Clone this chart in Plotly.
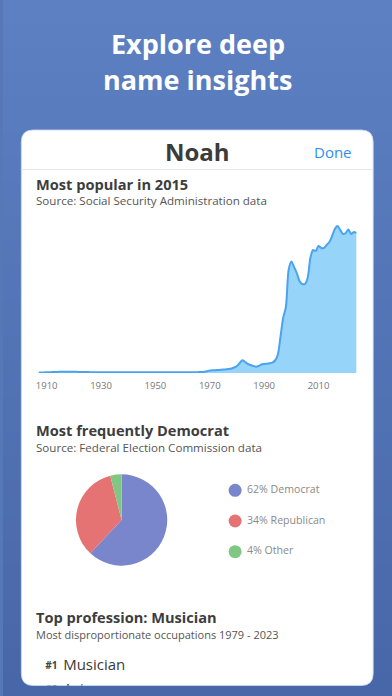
import plotly.graph_objects as go

# ---------------- data ----------------
years = list(range(1907, 2025))
births = [
    52, 65, 78, 91, 104, 117, 130, 143, 150, 156,          # 1907-1916
    160, 165, 162, 158, 150, 140, 130, 125, 118, 112,     # 1917-1926
    108, 105, 100, 98, 95, 92, 90, 92, 95, 98,            # 1927-1936
    100, 104, 108, 110, 106, 102, 98, 95, 92, 95,         # 1937-1946
    98, 100, 97, 94, 92, 90, 88, 86, 85, 85,              # 1947-1956
    86, 88, 90, 92, 94, 96, 98, 102, 108, 118,            # 1957-1966
    135, 170, 230, 320, 360, 370, 390, 410, 440, 480,     # 1967-1976
    520, 585, 715, 910, 1300, 1650, 1430, 1170, 1040, 910,  # 1977-1986
    820, 910, 1105, 1170, 1210, 1260, 1340, 1625, 2340, 4680,  # 1987-1996
    7150, 8580, 13390, 14500, 13780, 13000, 11960, 11570, 11570, 12350,  # 1997-2006
    14950, 15990, 15860, 16510, 16250, 16250, 16640, 17030, 17810, 18720,  # 2007-2016
    19110, 18590, 18070, 18200, 18655, 18070, 18330, 18200,  # 2017-2024
]
tick_years = [1910, 1930, 1950, 1970, 1990, 2010]

party_labels = ["Democrat", "Republican", "Other"]
party_values = [62, 34, 4]
party_colors = ["#7986cb", "#e57373", "#81c784"]

prof_ranks = [1, 2]
prof_names = ["Musician", "Actor"]

headline = ["Explore deep", "name insights"]
name = "Noah"
s1_title = "Most popular in 2015"
s1_sub = "Source: Social Security Administration data"
s2_title = "Most frequently Democrat"
s2_sub = "Source: Federal Election Commission data"
s3_title = "Top profession: Musician"
s3_sub = "Most disproportionate occupations 1979 - 2023"

# ---------------- helpers ----------------
W, H = 392, 696
FONT = "Open Sans"


def px(x):
    return x / W


def py(y):
    return 1 - y / H


fig = go.Figure()

# ---- background gradient (bands) ----
shapes = []
top_c = (92, 128, 194)
bot_c = (72, 103, 168)
nb = 58
for i in range(nb):
    t = i / (nb - 1)
    c = tuple(round(top_c[k] + (bot_c[k] - top_c[k]) * t) for k in range(3))
    shapes.append(dict(type="rect", xref="paper", yref="paper", layer="below",
                       x0=0, x1=1, y0=py((i + 1) * H / nb + 0.5), y1=py(i * H / nb),
                       fillcolor="rgb(%d,%d,%d)" % c, line=dict(width=0)))

# ---- card (rounded rect) ----
cl, cr, ct, cb, r = 18.5, 373, 130, 685.5, 12
path = (f"M {px(cl + r)},{py(ct)} L {px(cr - r)},{py(ct)} Q {px(cr)},{py(ct)} {px(cr)},{py(ct + r)} "
        f"L {px(cr)},{py(cb - r)} Q {px(cr)},{py(cb)} {px(cr - r)},{py(cb)} "
        f"L {px(cl + r)},{py(cb)} Q {px(cl)},{py(cb)} {px(cl)},{py(cb - r)} "
        f"L {px(cl)},{py(ct + r)} Q {px(cl)},{py(ct)} {px(cl + r)},{py(ct)} Z")
shapes.append(dict(type="path", xref="paper", yref="paper", layer="below", path=path,
                   fillcolor="white", line=dict(color="rgba(200,215,240,0.9)", width=1)))
# divider under header
shapes.append(dict(type="line", xref="paper", yref="paper", layer="below",
                   x0=px(cl), x1=px(cr), y0=py(169.5), y1=py(169.5),
                   line=dict(color="#e6e6e6", width=1)))

# ---- area chart ----
fig.add_trace(go.Scatter(
    x=years, y=births, mode="lines", line=dict(color="#4aa3ee", width=2, shape="spline", smoothing=0.8),
    fill="tozeroy", fillcolor="#97d4fa", hoverinfo="skip", showlegend=False,
    xaxis="x", yaxis="y"))

# ---- pie ----
fig.add_trace(go.Pie(
    labels=party_labels, values=party_values, marker=dict(colors=party_colors, line=dict(width=0)),
    sort=False, direction="clockwise", rotation=0, textinfo="none", hoverinfo="skip",
    showlegend=False,
    domain=dict(x=[px(73.5), px(165.5)], y=[py(566), py(474)])))

# ---- custom legend ----
fig.add_trace(go.Scatter(
    x=[0] * len(party_labels), y=list(range(1, len(party_labels) + 1)),
    mode="markers+text",
    marker=dict(size=13, color=party_colors),
    text=[f" {v}% {l}" for v, l in zip(party_values, party_labels)],
    textposition="middle right",
    textfont=dict(family=FONT, size=10.6, color="#8a8a8a"),
    hoverinfo="skip", showlegend=False, cliponaxis=False,
    xaxis="x2", yaxis="y2"))

# ---- profession list (clipped by card bottom) ----
fig.add_trace(go.Scatter(
    x=[0] * len(prof_ranks), y=prof_ranks, mode="text",
    text=[f"<b>#{k}</b>" for k in prof_ranks], textposition="middle right",
    textfont=dict(family=FONT, size=10, color="#444"),
    hoverinfo="skip", showlegend=False, cliponaxis=True,
    xaxis="x3", yaxis="y3"))
fig.add_trace(go.Scatter(
    x=[0.055] * len(prof_names), y=prof_ranks, mode="text",
    text=prof_names, textposition="middle right",
    textfont=dict(family=FONT, size=15, color="#3a3a3a"),
    hoverinfo="skip", showlegend=False, cliponaxis=True,
    xaxis="x3", yaxis="y3"))

# ---- annotations ----
ann = []


def txt(s, x, y, size, color, bold=False, xanchor="left"):
    ann.append(dict(text=f"<b>{s}</b>" if bold else s, x=px(x), y=py(y), xref="paper", yref="paper",
                    xanchor=xanchor, yanchor="middle", showarrow=False,
                    font=dict(family=FONT, size=size, color=color)))


txt(headline[0], 196, 43, 27, "white", True, "center")
txt(headline[1], 196, 80, 27, "white", True, "center")
txt(name, 195.5, 151, 24, "#3b3b3b", True, "center")
txt("Done", 332.5, 152, 15, "#2f8ff0", False, "center")
txt(s1_title, 31, 184, 14.6, "#3d3d3d", True)
txt(s1_sub, 31, 201, 11.6, "#555555")
txt(s2_title, 31, 430, 14.6, "#3d3d3d", True)
txt(s2_sub, 31, 447, 11.6, "#555555")
txt(s3_title, 31, 617, 14.6, "#3d3d3d", True)
txt(s3_sub, 31, 634, 11, "#555555")

fig.update_layout(
    width=W, height=H, margin=dict(l=0, r=0, t=0, b=0), autosize=False,
    paper_bgcolor="#5677b8", plot_bgcolor="rgba(0,0,0,0)",
    shapes=shapes, annotations=ann,
    xaxis=dict(domain=[px(35.8), px(356.3)], range=[1907, 2024], showgrid=False, zeroline=False,
               showline=False, tickmode="array", tickvals=tick_years, ticks="",
               ticklabelstandoff=5,
               tickfont=dict(family=FONT, size=9.5, color="#777777"), fixedrange=True),
    yaxis=dict(domain=[py(373), py(215)], range=[0, 20540], visible=False, fixedrange=True),
    xaxis2=dict(domain=[px(227), px(372)], range=[-0.05, 1], visible=False, fixedrange=True),
    yaxis2=dict(domain=[py(567), py(475)], range=[3.5, 0.5], visible=False, fixedrange=True),
    xaxis3=dict(domain=[px(42.5), px(372)], range=[0, 1], visible=False, fixedrange=True),
    yaxis3=dict(domain=[py(685.5), py(645)], range=[1.8125, 0.125], visible=False, fixedrange=True),
    font=dict(family=FONT),
)

fig.write_html("out.html", config={"displayModeBar": False},
               post_script="document.body.style.margin='0';")
